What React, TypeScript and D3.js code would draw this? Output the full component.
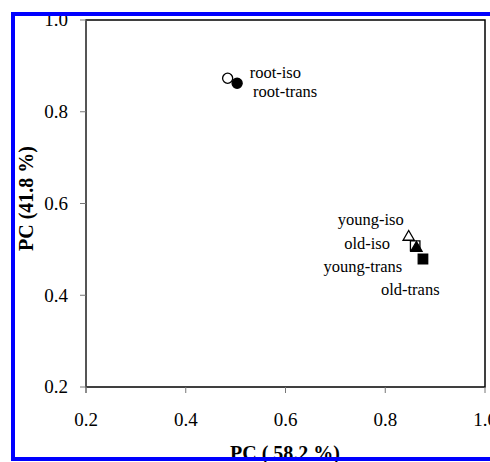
import React from 'react';
import * as d3 from 'd3';

// PCA scores
const names = ['root-iso', 'root-trans', 'young-iso', 'old-iso', 'young-trans', 'old-trans'];
const pcX = [0.484, 0.503, 0.847, 0.86, 0.8625, 0.8756];
const pcY = [0.873, 0.862, 0.527, 0.508, 0.503, 0.479];
const markers = ['circle', 'circle', 'triangle', 'square', 'triangle', 'square'];
const filled = [false, true, false, false, true, true];

const xTicks = [0.2, 0.4, 0.6, 0.8, 1.0];
const yTicks = [0.2, 0.4, 0.6, 0.8, 1.0];

// label offsets from the marker (px)
const labelDx = [22, 16, -71, -71, -93, -42];
const labelDy = [0, 14, -12, 3.5, 24, 36];

const W = 490;
const H = 462;
const plot = { left: 86, top: 20, right: 485, bottom: 387 };
const serif = '"Liberation Serif", "Times New Roman", serif';

export default function App() {
  const x = d3.scaleLinear().domain([0.2, 1.0]).range([plot.left, plot.right]);
  const y = d3.scaleLinear().domain([0.2, 1.0]).range([plot.bottom, plot.top]);

  const sym = (kind: string) => {
    if (kind === 'circle') return d3.symbol(d3.symbolCircle, 80)();
    if (kind === 'triangle') return d3.symbol(d3.symbolTriangle, 55)();
    return d3.symbol(d3.symbolSquare, 90)();
  };

  return (
    <svg
      width={W}
      height={H}
      style={{ position: 'absolute', left: 0, top: 0, background: '#fff' }}
      fontFamily={serif}
    >
      {/* plot box */}
      <rect
        x={plot.left}
        y={plot.top}
        width={plot.right - plot.left}
        height={plot.bottom - plot.top}
        fill="none"
        stroke="#000"
        strokeWidth={1.5}
      />
      <line x1={plot.left} x2={plot.left} y1={plot.top} y2={plot.bottom + 6} stroke="#666" strokeWidth={1.2} />

      {/* y axis */}
      {yTicks.map((t) => (
        <g key={'y' + t}>
          <line x1={plot.left - 6} x2={plot.left} y1={y(t)} y2={y(t)} stroke="#777" strokeWidth={1} />
          <text x={68} y={y(t)} dy="0.34em" textAnchor="end" fontSize={19} fill="#000">
            {t.toFixed(1)}
          </text>
        </g>
      ))}

      {/* x axis */}
      {xTicks.map((t) => (
        <g key={'x' + t}>
          <line x1={x(t)} x2={x(t)} y1={plot.bottom} y2={plot.bottom + 6} stroke="#777" strokeWidth={1} />
          <text x={x(t)} y={426} textAnchor="middle" fontSize={19} fill="#000">
            {t.toFixed(1)}
          </text>
        </g>
      ))}

      {/* points */}
      {names.map((n, i) => (
        <g key={n}>
          <path
            d={sym(markers[i]) || ''}
            transform={`translate(${x(pcX[i])},${y(pcY[i])})`}
            fill={filled[i] ? '#000' : '#fff'}
            stroke="#000"
            strokeWidth={1.3}
          />
        </g>
      ))}
      {names.map((n, i) => (
        <text
          key={'l' + n}
          x={x(pcX[i]) + labelDx[i]}
          y={y(pcY[i]) + labelDy[i]}
          fontSize={16.5}
          fill="#000"
        >
          {n}
        </text>
      ))}

      {/* axis titles */}
      <text x={285} y={460} textAnchor="middle" fontSize={20} fontWeight="bold">
        PC ( 58.2 %)
      </text>
      <text
        transform={`translate(33,${(plot.top + plot.bottom) / 2 - 5}) rotate(-90)`}
        textAnchor="middle"
        fontSize={20}
        fontWeight="bold"
      >
        PC (41.8 %)
      </text>

      {/* blue frame */}
      <rect x={13} y={14} width={W} height={445} fill="none" stroke="#0000ff" strokeWidth={4} />
    </svg>
  );
}
